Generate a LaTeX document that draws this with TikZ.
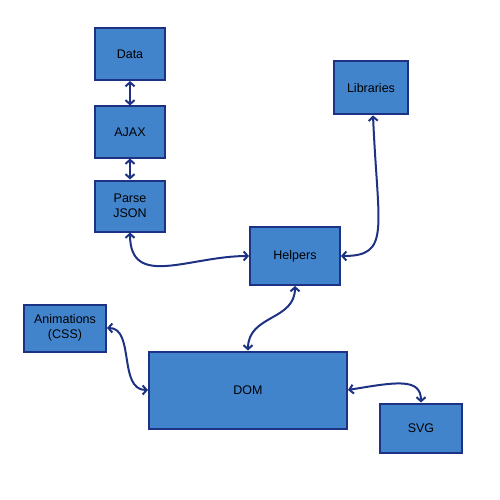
\documentclass[tikz,border=0pt]{standalone}
\usepackage{fontspec}
\setmainfont{Liberation Sans}
\usepackage{tikz}
\usetikzlibrary{arrows.meta}

\definecolor{boxblue}{RGB}{66,132,204}
\definecolor{edgeblue}{RGB}{30,50,132}

\begin{document}
\begin{tikzpicture}[x=1pt, y=-1pt, line width=2pt,
    main/.style = {draw=edgeblue, fill=boxblue, rectangle, align=center,
                   inner sep=2pt, font=\fontsize{12.5}{14.5}\selectfont},
    link/.style = {draw=edgeblue, {Straight Barb[length=4pt,width=9pt]}-{Straight Barb[length=4pt,width=9pt]}}]
            \useasboundingbox (0,0) rectangle (500,500);
            % Nodes
            \node[main, minimum width=70, minimum height=52] (data) at (130,54) {Data};
            \node[main, minimum width=70, minimum height=51] (ajax) at (130,132) {AJAX};
            \node[main, minimum width=70, minimum height=51] (parse) at (130,206) {Parse\\JSON};
            \node[main, minimum width=74, minimum height=53] (libs) at (371,88) {Libraries};
            \node[main, minimum width=90, minimum height=58] (helpers) at (295,256) {Helpers};
            \node[main, minimum width=82, minimum height=47] (anim) at (65,328) {Animations\\(CSS)};
            \node[main, minimum width=198, minimum height=77] (dom) at (248,390) {DOM};
            \node[main, minimum width=82, minimum height=49] (svg) at (421,428) {SVG};
            % Edges
            \draw[link] (data) -- (ajax);
            \draw[link] (ajax) -- (parse);
            \draw[link] (parse.south) .. controls +(0,57) and +(-60,0) .. (helpers.west);
            \draw[link] ([xshift=2pt]libs.south) .. controls +(5,115) and +(50,0) .. (helpers.east);
            \draw[link] (helpers.south) .. controls +(0,35) and +(0,-36) .. (dom.north);
            \draw[link] (anim.east) .. controls +(28,0) and +(-30,0) .. (dom.west);
            \draw[link] (dom.east) .. controls +(48,-8) and +(0,-25) .. (svg.north);
\end{tikzpicture}
\end{document}
